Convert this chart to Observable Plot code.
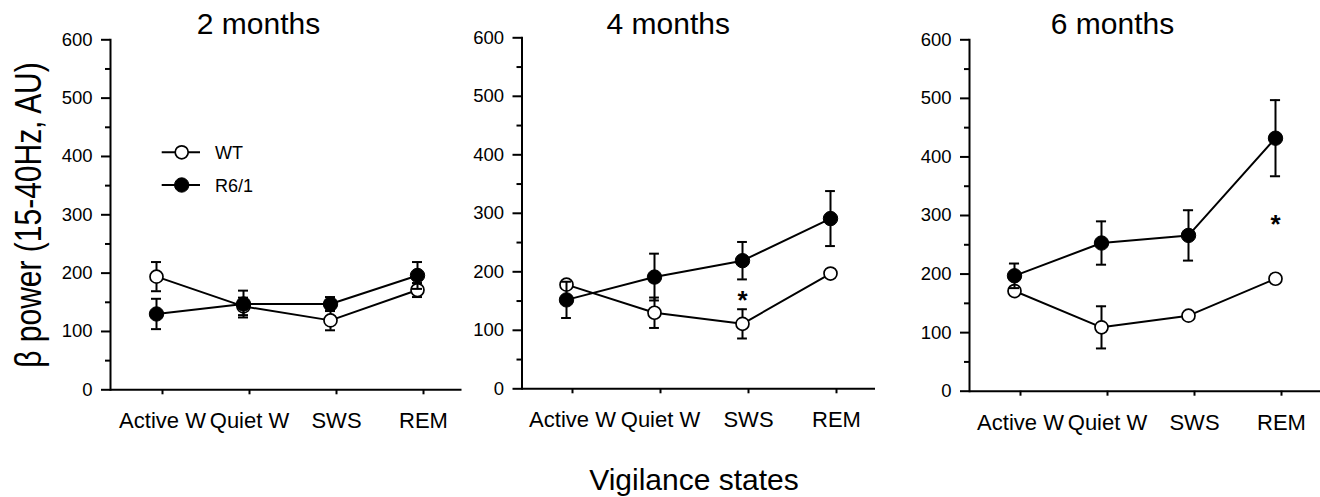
<!DOCTYPE html>
<html><head><meta charset="utf-8">
<script src="https://cdn.jsdelivr.net/npm/d3@7"></script>
<script src="https://cdn.jsdelivr.net/npm/@observablehq/plot@0.6"></script>
<style>
body{margin:0;background:#fff;}
#wrap{position:relative;width:1320px;height:497px;overflow:hidden;font-family:"Liberation Sans",Arial,sans-serif;}
#wrap svg{position:absolute;top:0;}
</style></head><body><div id="wrap"></div>
<script>
// ---- data ----
const states = ["Active W", "Quiet W", "SWS", "REM"];
const panelTitles = ["2 months", "4 months", "6 months"];
const groups = ["WT", "R6/1"];
const wtMean2 = [194, 143, 119, 171];
const wtErr2  = [25, 15, 17, 12];
const r6Mean2 = [130, 147, 147, 196];
const r6Err2  = [26, 23, 12, 23];
const wtMean4 = [178, 130, 111, 197];
const wtErr4  = [6, 26, 25, 5];
const r6Mean4 = [152, 191, 219, 291];
const r6Err4  = [31, 40, 32, 47];
const wtMean6 = [171, 109, 129, 192];
const wtErr6  = [5, 36, 5, 5];
const r6Mean6 = [197, 253, 266, 432];
const r6Err6  = [21, 37, 43, 65];
const sigState = [null, "SWS", "REM"];
const sigValue = [null, 161, 294];
const yTicks = [0, 100, 200, 300, 400, 500, 600];
const yMinor = [50, 150, 250, 350, 450, 550];
const yLabel = "β power (15-40Hz, AU)";
const xTitle = "Vigilance states";

const wtMeans = [wtMean2, wtMean4, wtMean6], wtErrs = [wtErr2, wtErr4, wtErr6];
const r6Means = [r6Mean2, r6Mean4, r6Mean6], r6Errs = [r6Err2, r6Err4, r6Err6];

// ---- layout (styles only) ----
const layout = [
  {left: 0,   width: 470, ml: 110,  mr: 8.5, mt: 39.3, mb: 50.7},
  {left: 465, width: 420, ml: 56.5, mr: 10,  mt: 37.3, mb: 51.7},
  {left: 920, width: 400, ml: 49,   mr: 0,   mt: 39.3, mb: 49.3}
];
const H = 440;
const wrap = document.getElementById("wrap");
const rows = (m, e) => states.map((s, i) => ({state: s, v: m[i], lo: m[i] - e[i], hi: m[i] + e[i]}));

layout.forEach((L, p) => {
  const wt = rows(wtMeans[p], wtErrs[p]);
  const r6 = rows(r6Means[p], r6Errs[p]);
  const sig = sigState[p] ? [{state: sigState[p], v: sigValue[p]}] : [];
  const bw = (L.width - L.ml - L.mr) / states.length * 0.5;
  const inset = (bw - 10) / 2;
  const err = (data) => [
    Plot.ruleX(data, {x: "state", y1: "lo", y2: "hi", stroke: "black", strokeWidth: 2}),
    Plot.tickY(data, {x: "state", y: "lo", insetLeft: inset, insetRight: inset, stroke: "black", strokeWidth: 2}),
    Plot.tickY(data, {x: "state", y: "hi", insetLeft: inset, insetRight: inset, stroke: "black", strokeWidth: 2})
  ];
  const chart = Plot.plot({
    width: L.width, height: H,
    marginLeft: L.ml, marginRight: L.mr, marginTop: L.mt, marginBottom: L.mb,
    style: {fontFamily: '"Liberation Sans", Arial, sans-serif', color: "#000", background: "transparent", overflow: "visible"},
    x: {type: "band", domain: states, paddingInner: 0.5, paddingOuter: 0.25, label: null},
    y: {domain: [0, 600], label: null},
    marks: [
      Plot.ruleY([0], {stroke: "black", strokeWidth: 2}),
      Plot.frame({anchor: "left", stroke: "black", strokeWidth: 2}),
      Plot.axisY({ticks: yTicks, tickSize: 9, tickPadding: 9, fontSize: 18.5, strokeWidth: 2, label: null}),
      Plot.axisY({ticks: yMinor, tickSize: 5, tickFormat: () => "", strokeWidth: 2, label: null}),
      Plot.axisX({tickSize: 5, tickPadding: 18, fontSize: 22, dx: 6, strokeWidth: 2, label: null}),
      ...err(wt),
      Plot.line(wt, {x: "state", y: "v", stroke: "black", strokeWidth: 2}),
      Plot.dot(wt, {x: "state", y: "v", r: 6.5, fill: "white", stroke: "black", strokeWidth: 1.7}),
      ...err(r6),
      Plot.line(r6, {x: "state", y: "v", stroke: "black", strokeWidth: 2}),
      Plot.dot(r6, {x: "state", y: "v", r: 7.2, fill: "black", stroke: "black", strokeWidth: 1}),
      Plot.text(sig, {x: "state", y: "v", text: () => "*", fontSize: 26, fontWeight: "bold", dy: 6, fill: "black"})
    ]
  });
  chart.style.left = L.left + "px";
  wrap.appendChild(chart);
});

// ---- titles, axis titles, legend ----
const ov = d3.select(wrap).append("svg")
  .attr("width", 1320).attr("height", 497)
  .style("left", "0px").style("pointer-events", "none")
  .attr("font-family", '"Liberation Sans", Arial, sans-serif');
const titleX = [258.5, 668.3, 1112.5];
panelTitles.forEach((t, i) => {
  ov.append("text").attr("x", titleX[i]).attr("y", 34.3).attr("text-anchor", "middle")
    .attr("font-size", 30).attr("fill", "#000").text(t);
});
ov.append("text").attr("transform", "translate(40.5,215) rotate(-90) scale(1,1.25)")
  .attr("text-anchor", "middle").attr("font-size", 30).attr("fill", "#000").text(yLabel);
ov.append("text").attr("x", 694).attr("y", 490).attr("text-anchor", "middle")
  .attr("font-size", 30).attr("fill", "#000").text(xTitle);
const legY = [152.3, 185];
groups.forEach((g, i) => {
  ov.append("line").attr("x1", 161.7).attr("x2", 200).attr("y1", legY[i]).attr("y2", legY[i])
    .attr("stroke", "#000").attr("stroke-width", 2);
  ov.append("circle").attr("cx", 181.7).attr("cy", legY[i]).attr("r", i === 0 ? 6.5 : 7.2)
    .attr("fill", i === 0 ? "#fff" : "#000").attr("stroke", "#000").attr("stroke-width", i === 0 ? 1.7 : 1);
  ov.append("text").attr("x", 215).attr("y", legY[i] + 6.5).attr("font-size", 18)
    .attr("fill", "#000").text(g);
});
</script></body></html>
